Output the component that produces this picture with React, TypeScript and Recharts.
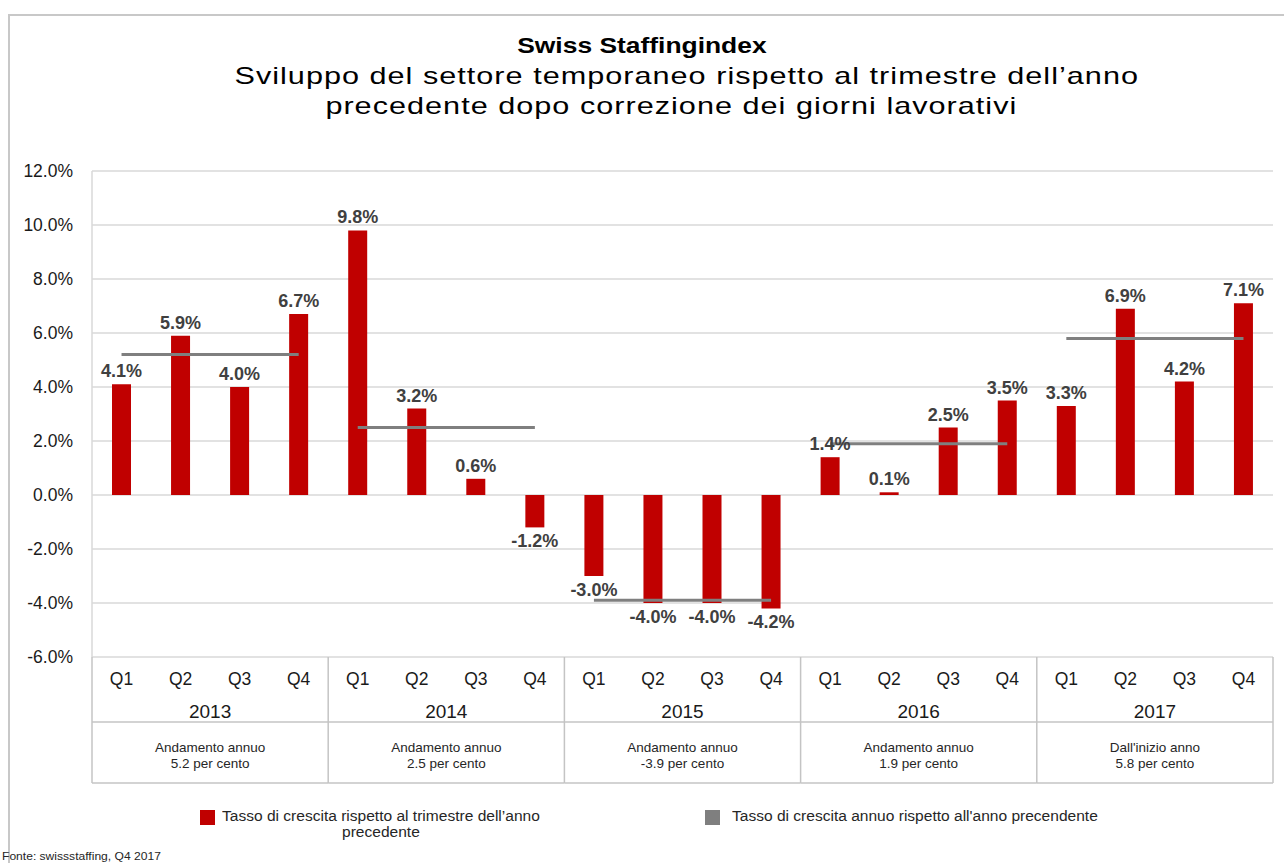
import { Bar, ComposedChart, Line, XAxis, YAxis, CartesianGrid, LabelList } from "recharts";

const years = ["2013", "2014", "2015", "2016", "2017"];
const quarters = ["Q1", "Q2", "Q3", "Q4"];
// growth vs same quarter of previous year (%)
const quarterly = [
  4.1, 5.9, 4.0, 6.7,
  9.8, 3.2, 0.6, -1.2,
  -3.0, -4.0, -4.0, -4.2,
  1.4, 0.1, 2.5, 3.5,
  3.3, 6.9, 4.2, 7.1,
];
// annual growth vs previous year (%)
const annual = [5.2, 2.5, -3.9, 1.9, 5.8];
const notes = [
  ["Andamento annuo", "5.2 per cento"],
  ["Andamento annuo", "2.5 per cento"],
  ["Andamento annuo", "-3.9 per cento"],
  ["Andamento annuo", "1.9 per cento"],
  ["Dall'inizio anno", "5.8 per cento"],
];
const yTicks = [-6, -4, -2, 0, 2, 4, 6, 8, 10, 12];

const FONT = "'Liberation Sans', Arial, sans-serif";
const W = 1284;
const H = 863;
const LEFT = 92;
const RIGHT = 11;
const BAND = (W - LEFT - RIGHT) / quarterly.length;
const GRID = "#d9d9d9";
const TABLE = "#c4c4c4";

const data = quarterly.map((v, i) => {
  const yi = Math.floor(i / 4);
  const row: any = { key: `${years[yi]}-${quarters[i % 4]}`, value: v };
  years.forEach((yr, j) => {
    row[`y${yr}`] = j === yi ? annual[j] : null;
  });
  return row;
});

function QuarterTick(props: any) {
  const { x, y, payload } = props;
  const [yr, q] = String(payload.value).split("-");
  const yi = years.indexOf(yr);
  const left = x - BAND / 2;
  const mid = x + 1.5 * BAND;
  return (
    <g fontFamily={FONT}>
      <text x={x} y={y + 28} textAnchor="middle" fontSize={17.5} fill="#1a1a1a">{q}</text>
      {q === "Q1" && (
        <g>
          <line x1={left} x2={left} y1={y} y2={y + 126} stroke={TABLE} strokeWidth={1.5} />
          <line x1={left} x2={left + 4 * BAND} y1={y + 65} y2={y + 65} stroke={TABLE} strokeWidth={1.5} />
          <line x1={left} x2={left + 4 * BAND} y1={y + 126} y2={y + 126} stroke={TABLE} strokeWidth={1.5} />
          <text x={mid} y={y + 61} textAnchor="middle" fontSize={19} fill="#1a1a1a">{yr}</text>
          <text x={mid} y={y + 95} textAnchor="middle" fontSize={13.5} fill="#262626">{notes[yi][0]}</text>
          <text x={mid} y={y + 111} textAnchor="middle" fontSize={13.5} fill="#262626">{notes[yi][1]}</text>
        </g>
      )}
      {q === "Q4" && yi === years.length - 1 && (
        <line x1={x + BAND / 2} x2={x + BAND / 2} y1={y} y2={y + 126} stroke={TABLE} strokeWidth={1.5} />
      )}
    </g>
  );
}

function BarLabel(props: any) {
  const { x, y, width, height, value } = props;
  const top = Math.min(y, y + height);
  const bottom = Math.max(y, y + height);
  const ty = value >= 0 ? top - 7 : bottom + 20;
  return (
    <text x={x + width / 2} y={ty} textAnchor="middle" fontFamily={FONT} fontWeight="bold" fontSize={18} fill="#404040">
      {`${value.toFixed(1)}%`}
    </text>
  );
}

const stretch = (k: number, origin = "center") => ({
  display: "inline-block",
  transform: `scaleX(${k})`,
  transformOrigin: origin,
  whiteSpace: "nowrap" as const,
});

export default function App() {
  return (
    <div style={{ position: "absolute", left: 0, top: 0, width: W, height: H, background: "#fff", fontFamily: FONT, overflow: "hidden" }}>
      <div style={{ position: "absolute", left: 8, top: 14, width: W, height: H, borderLeft: "2px solid #c8c8c8", borderTop: "2px solid #c8c8c8" }} />
      <div style={{ position: "absolute", left: 0, top: 30, width: W, textAlign: "center", color: "#000" }}>
        <div style={{ fontSize: 22, fontWeight: "bold", lineHeight: "31px" }}>
          <span style={stretch(1.2)}>Swiss Staffingindex</span>
        </div>
        <div style={{ fontSize: 24, lineHeight: "30px", letterSpacing: 0.8, position: "relative", left: 45 }}>
          <span style={stretch(1.275)}>Sviluppo del settore temporaneo rispetto al trimestre dell’anno</span>
        </div>
        <div style={{ fontSize: 24, lineHeight: "30px", letterSpacing: 0.8, position: "relative", left: 29 }}>
          <span style={stretch(1.275)}>precedente dopo correzione dei giorni lavorativi</span>
        </div>
      </div>
      <div style={{ position: "absolute", left: 0, top: 0 }}>
        <ComposedChart width={W} height={H} data={data} margin={{ top: 171, right: RIGHT, left: 0, bottom: 0 }}>
          <CartesianGrid vertical={false} stroke={GRID} strokeWidth={1.5} />
          <XAxis dataKey="key" height={H - 657} interval={0} tickLine={false} axisLine={false} tickSize={0} tickMargin={0} tick={<QuarterTick />} />
          <YAxis
            width={LEFT}
            domain={[-6, 12]}
            ticks={yTicks}
            tickLine={false}
            tickSize={0}
            tickMargin={19}
            axisLine={{ stroke: GRID, strokeWidth: 1.5 }}
            tick={{ fill: "#1a1a1a", fontSize: 17.5, fontFamily: FONT }}
            tickFormatter={(v: number) => `${v.toFixed(1)}%`}
          />
          <Bar dataKey="value" fill="#c00000" barSize={19} isAnimationActive={false}>
            <LabelList dataKey="value" content={<BarLabel />} />
          </Bar>
          {years.map((yr) => (
            <Line
              key={yr}
              dataKey={`y${yr}`}
              stroke="#7f7f7f"
              strokeWidth={3}
              dot={false}
              activeDot={false}
              connectNulls={false}
              isAnimationActive={false}
            />
          ))}
        </ComposedChart>
      </div>
      <div style={{ position: "absolute", left: 200, top: 810, width: 15, height: 15, background: "#c00000" }} />
      <div style={{ position: "absolute", left: 222, top: 808, fontSize: 14, lineHeight: "16px", color: "#262626", textAlign: "center", transform: "scaleX(1.11)", transformOrigin: "left" }}>
        Tasso di crescita rispetto al trimestre dell’anno<br />precedente
      </div>
      <div style={{ position: "absolute", left: 705, top: 810, width: 15, height: 15, background: "#7f7f7f" }} />
      <div style={{ position: "absolute", left: 732, top: 808, fontSize: 14, lineHeight: "16px", color: "#262626", whiteSpace: "nowrap", transform: "scaleX(1.11)", transformOrigin: "left" }}>
        Tasso di crescita annuo rispetto all'anno precendente
      </div>
      <div style={{ position: "absolute", left: 2, top: 850, fontSize: 11.5, color: "#262626", whiteSpace: "nowrap", transform: "scaleX(1.05)", transformOrigin: "left" }}>
        Fonte: swissstaffing, Q4 2017
      </div>
    </div>
  );
}
